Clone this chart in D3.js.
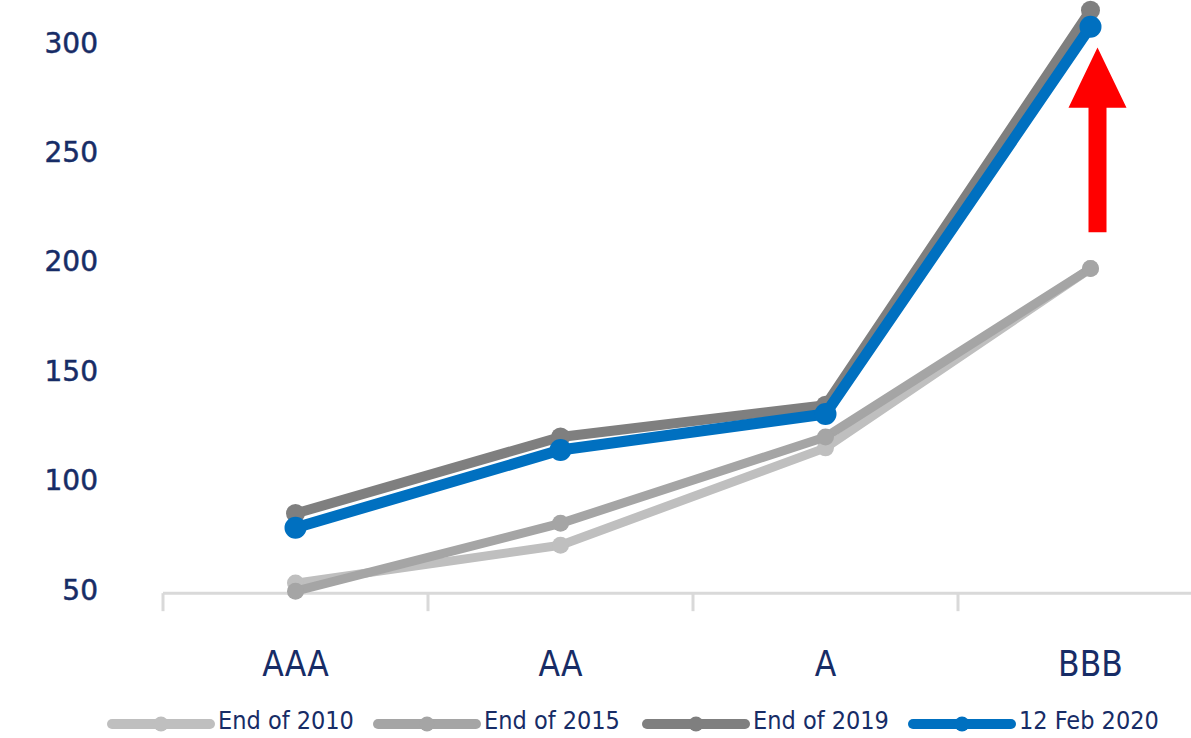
<!DOCTYPE html>
<html><head><meta charset="utf-8">
<script src="https://cdn.jsdelivr.net/npm/d3@7"></script>
<style>html,body{margin:0;padding:0;background:#fff;}svg{display:block;}</style>
</head><body>
<svg id="chart" width="1191" height="738"></svg>
<script>
const categories = ["AAA", "AA", "A", "BBB"];
const seriesNames = ["End of 2010", "End of 2015", "End of 2019", "12 Feb 2020"];
const end2010 = [52.7, 70, 114.5, 196.5];
const end2015 = [49, 80, 119.5, 196.5];
const end2019 = [84.5, 119.5, 134, 314.5];
const feb2020 = [78, 113.5, 130, 307];
const yTicks = [50, 100, 150, 200, 250, 300];
const colors = ["#bfbfbf", "#a5a5a5", "#7f7f7f", "#0070c0"];
const widths = [9, 9, 10, 11];
const radii = [8.5, 8.5, 9.5, 11];
const seriesValues = [end2010, end2015, end2019, feb2020];
const textColor = "#172c66";

const svg = d3.select("#chart");
const x = d3.scaleBand().domain(categories).range([163, 1223]).padding(0);
const y = d3.scaleLinear().domain([50, 300]).range([589, 42]);
const axisY = y(48.1);

// x axis
const xAxis = d3.axisBottom(x).tickSize(0).tickPadding(0);
const gx = svg.append("g").attr("transform", `translate(0,${axisY})`).call(xAxis);
gx.select(".domain").remove();
gx.append("line").attr("x1", 163).attr("x2", 1223).attr("y1", 0).attr("y2", 0)
  .attr("stroke", "#d9d9d9").attr("stroke-width", 3);
const bounds = categories.map(c => x(c)).concat([x(categories[categories.length-1]) + x.bandwidth()]);
gx.selectAll("line.bt").data(bounds).join("line").attr("class","bt")
  .attr("x1", d => d).attr("x2", d => d).attr("y1", 0).attr("y2", 18)
  .attr("stroke", "#d9d9d9").attr("stroke-width", 3);
gx.selectAll(".tick text").attr("dy", null).attr("y", 83)
  .attr("font-family", "DejaVu Sans Condensed, DejaVu Sans").attr("font-size", 35)
  .attr("fill", textColor);

// y axis labels
const yAxis = d3.axisLeft(y).tickValues(yTicks).tickSize(0).tickPadding(0);
const gy = svg.append("g").attr("transform", "translate(98,0)").call(yAxis);
gy.select(".domain").remove();
gy.selectAll(".tick text").attr("x", 0).attr("dy", "0.36em")
  .attr("font-family", "DejaVu Sans").attr("font-size", 28).attr("fill", textColor)
  .attr("stroke", textColor).attr("stroke-width", 0.5);

// lines
const line = d3.line().x((d, i) => x(categories[i]) + x.bandwidth()/2).y(d => y(d));
seriesValues.forEach((vals, s) => {
  const g = svg.append("g");
  g.append("path").datum(vals).attr("d", line).attr("fill", "none")
    .attr("stroke", colors[s]).attr("stroke-width", widths[s])
    .attr("stroke-linejoin", "round").attr("stroke-linecap", "round");
  g.selectAll("circle").data(vals).join("circle")
    .attr("cx", (d, i) => x(categories[i]) + x.bandwidth()/2)
    .attr("cy", d => y(d)).attr("r", radii[s]).attr("fill", colors[s]);
});

// red arrow annotation
const ax = x("BBB") + x.bandwidth()/2 + 7;
const arrowBase = 213, arrowNeck = 270, arrowTip = 297.5;
const arrow = d3.path();
arrow.moveTo(ax - 9, y(arrowBase));
arrow.lineTo(ax - 9, y(arrowNeck));
arrow.lineTo(ax - 29, y(arrowNeck));
arrow.lineTo(ax, y(arrowTip));
arrow.lineTo(ax + 29, y(arrowNeck));
arrow.lineTo(ax + 9, y(arrowNeck));
arrow.lineTo(ax + 9, y(arrowBase));
arrow.closePath();
svg.append("path").attr("d", arrow.toString()).attr("fill", "#ff0000");

// legend
const legendX = [107, 373, 642, 908];
const lg = svg.append("g");
seriesNames.forEach((name, s) => {
  const g = lg.append("g").attr("transform", `translate(${legendX[s]},724)`);
  g.append("line").attr("x1", 5).attr("x2", 103).attr("y1", 0).attr("y2", 0)
    .attr("stroke", colors[s]).attr("stroke-width", 10).attr("stroke-linecap", "round");
  g.append("circle").attr("cx", 54).attr("cy", 0).attr("r", 7.5).attr("fill", colors[s]);
  g.append("text").attr("x", 111).attr("y", -4).attr("dy", "0.36em")
    .attr("font-family", "DejaVu Sans Condensed, DejaVu Sans").attr("font-size", 25)
    .attr("fill", textColor).text(name);
});
</script>
</body></html>
